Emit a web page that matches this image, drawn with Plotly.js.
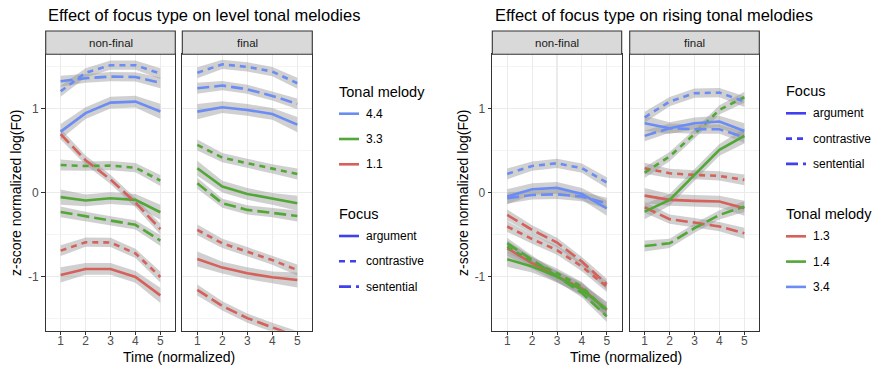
<!DOCTYPE html>
<html>
<head>
<meta charset="utf-8">
<script src="https://cdn.plot.ly/plotly-3.0.1.min.js"></script>
<style>html,body{margin:0;padding:0;background:#fff;}#chart{width:872px;height:365px;}</style>
</head>
<body>
<div id="chart"></div>
<script>
// ---------------- DATA ----------------
const time = [1, 2, 3, 4, 5];
const focusTypes = ['argument', 'contrastive', 'sentential'];
const panelLabels = ['non-final', 'final'];

// Level tonal melodies
const levelMelodies = ['4.4', '3.3', '1.1'];
const levelNonFinal_44 = {argument: [0.73, 0.95, 1.075, 1.087, 0.97], contrastive: [1.21, 1.43, 1.52, 1.52, 1.42], sentential: [1.33, 1.365, 1.385, 1.38, 1.31]};
const levelNonFinal_33 = {argument: [-0.05, -0.09, -0.063, -0.083, -0.23], contrastive: [0.333, 0.32, 0.325, 0.30, 0.147], sentential: [-0.226, -0.28, -0.333, -0.38, -0.567]};
const levelNonFinal_11 = {argument: [-0.976, -0.905, -0.905, -1.00, -1.22], contrastive: [-0.687, -0.587, -0.59, -0.72, -1.00], sentential: [0.70, 0.39, 0.16, -0.115, -0.43]};
const levelFinal_44 = {argument: [0.968, 1.02, 0.988, 0.94, 0.813], contrastive: [1.43, 1.53, 1.50, 1.445, 1.305], sentential: [1.246, 1.278, 1.234, 1.155, 1.06]};
const levelFinal_33 = {argument: [0.294, 0.075, -0.012, -0.071, -0.123], contrastive: [0.571, 0.42, 0.353, 0.286, 0.226], sentential: [0.115, -0.123, -0.202, -0.234, -0.274]};
const levelFinal_11 = {argument: [-0.786, -0.889, -0.956, -1.004, -1.036], contrastive: [-0.44, -0.60, -0.70, -0.80, -0.917], sentential: [-1.155, -1.345, -1.49, -1.60, -1.71]};

// Rising tonal melodies
const risingMelodies = ['1.3', '1.4', '3.4'];
const risingNonFinal_13 = {argument: [-0.659, -0.837, -0.996, -1.135, -1.393], contrastive: [-0.40, -0.55, -0.68, -0.877, -1.115], sentential: [-0.262, -0.44, -0.59, -0.817, -1.087]};
const risingNonFinal_14 = {argument: [-0.79, -0.877, -0.996, -1.155, -1.385], contrastive: [-0.64, -0.817, -0.956, -1.115, -1.413], sentential: [-0.60, -0.80, -0.996, -1.19, -1.47]};
const risingNonFinal_34 = {argument: [-0.044, 0.044, 0.06, -0.012, -0.183], contrastive: [0.226, 0.32, 0.353, 0.294, 0.123], sentential: [-0.063, -0.024, -0.016, -0.044, -0.123]};
const risingFinal_13 = {argument: [-0.032, -0.083, -0.095, -0.103, -0.183], contrastive: [0.294, 0.234, 0.214, 0.202, 0.155], sentential: [-0.171, -0.313, -0.353, -0.40, -0.48]};
const risingFinal_14 = {argument: [-0.222, -0.083, 0.214, 0.512, 0.679], contrastive: [0.242, 0.433, 0.702, 0.988, 1.139], sentential: [-0.631, -0.60, -0.42, -0.262, -0.163]};
const risingFinal_34 = {argument: [0.829, 0.77, 0.829, 0.85, 0.738], contrastive: [0.90, 1.087, 1.187, 1.194, 1.087], sentential: [0.679, 0.77, 0.758, 0.758, 0.663]};

// Confidence band half-widths (per focus type)
const bandArgument = [0.09, 0.07, 0.07, 0.07, 0.09];
const bandContrastive = [0.065, 0.055, 0.055, 0.055, 0.065];
const bandSentential = [0.065, 0.055, 0.055, 0.055, 0.065];

// ---------------- STYLE ----------------
const W = 872, H = 365;
const FONT = 'Liberation Sans, Arial, Helvetica, sans-serif';
const melodyColors = {'4.4': '#6A8CF4', '3.3': '#52A836', '1.1': '#D6605A', '3.4': '#6A8CF4', '1.4': '#52A836', '1.3': '#D6605A'};
const focusBlue = '#4040EE';
const dashes = {argument: 'solid', contrastive: '6px,5px', sentential: '12px,5px'};
const bands = {argument: bandArgument, contrastive: bandContrastive, sentential: bandSentential};

const px = x => x / W;
const py = y => (H - y) / H;

const plotTop = 54.3, plotBottom = 330.7, stripTop = 31;
const panels = [
  {x0: 45.7, x1: 175.3, ax: 'x', ay: 'y', data: {'4.4': levelNonFinal_44, '3.3': levelNonFinal_33, '1.1': levelNonFinal_11}, label: panelLabels[0]},
  {x0: 182.3, x1: 312.3, ax: 'x2', ay: 'y2', data: {'4.4': levelFinal_44, '3.3': levelFinal_33, '1.1': levelFinal_11}, label: panelLabels[1]},
  {x0: 492.3, x1: 621.7, ax: 'x3', ay: 'y3', data: {'1.3': risingNonFinal_13, '1.4': risingNonFinal_14, '3.4': risingNonFinal_34}, label: panelLabels[0]},
  {x0: 629.7, x1: 759.3, ax: 'x4', ay: 'y4', data: {'1.3': risingFinal_13, '1.4': risingFinal_14, '3.4': risingFinal_34}, label: panelLabels[1]}
];

const ribbons = [], lines = [];
panels.forEach(p => {
  Object.keys(p.data).forEach(mel => {
    focusTypes.forEach(f => {
      const v = p.data[mel][f];
      const b = bands[f];
      const up = v.map((d, i) => d + b[i]);
      const lo = v.map((d, i) => d - b[i]);
      ribbons.push({
        x: time.concat(time.slice().reverse()),
        y: up.concat(lo.slice().reverse()),
        xaxis: p.ax, yaxis: p.ay, type: 'scatter', mode: 'lines',
        fill: 'toself', fillcolor: 'rgba(150,150,150,0.45)',
        line: {width: 0}, hoverinfo: 'skip', showlegend: false
      });
      lines.push({
        x: time, y: v, xaxis: p.ax, yaxis: p.ay, type: 'scatter', mode: 'lines',
        line: {color: melodyColors[mel], width: 2.6, dash: dashes[f]},
        name: mel + ' ' + f, showlegend: false
      });
    });
  });
});

const gridColor = '#EBEBEB';
function xAxis(p) {
  return {
    domain: [px(p.x0), px(p.x1)], anchor: p.ay, range: [0.4, 5.6],
    tickvals: time, ticktext: time.map(String), ticks: 'outside', ticklen: 3.5, tickwidth: 1, tickcolor: '#333333',
    ticklabelstandoff: -5,
    tickfont: {family: FONT, size: 12, color: '#4D4D4D'},
    showgrid: true, gridcolor: gridColor, gridwidth: 1.1, zeroline: false,
    showline: true, mirror: true, linecolor: '#333333', linewidth: 1.1, fixedrange: true
  };
}
function yAxis(p, labels) {
  return {
    domain: [py(plotBottom), py(plotTop)], anchor: p.ax, range: [-1.64, 1.65],
    tickvals: [-1, 0, 1], ticktext: ['-1', '0', '1'],
    ticks: labels ? 'outside' : '', ticklen: 3.5, tickwidth: 1, tickcolor: '#333333', showticklabels: labels,
    tickfont: {family: FONT, size: 12, color: '#4D4D4D'},
    showgrid: true, gridcolor: gridColor, gridwidth: 1.1, zeroline: false,
    minor: {tickvals: [-1.5, -0.5, 0.5, 1.5], showgrid: true, gridcolor: gridColor, gridwidth: 0.55, ticks: ''},
    showline: true, mirror: true, linecolor: '#333333', linewidth: 1.1, fixedrange: true
  };
}

const shapes = [], annotations = [];
panels.forEach(p => {
  shapes.push({type: 'rect', xref: 'paper', yref: 'paper', x0: px(p.x0), x1: px(p.x1), y0: py(plotTop), y1: py(stripTop),
    fillcolor: '#D9D9D9', line: {color: '#333333', width: 1.1}, layer: 'above'});
  annotations.push({xref: 'paper', yref: 'paper', x: px((p.x0 + p.x1) / 2), y: py((stripTop + plotTop) / 2),
    text: p.label, showarrow: false, xanchor: 'center', yanchor: 'middle', font: {family: FONT, size: 11.5, color: '#1A1A1A'}});
});

// Titles
const chartTitles = ['Effect of focus type on level tonal melodies', 'Effect of focus type on rising tonal melodies'];
[[46, chartTitles[0]], [492.5, chartTitles[1]]].forEach(([x, t]) => {
  annotations.push({xref: 'paper', yref: 'paper', x: px(x), y: py(14.5), text: t, showarrow: false, xanchor: 'left', yanchor: 'middle',
    font: {family: FONT, size: 16.5, color: '#000000'}});
});
// Axis titles
[[15.5, 192.5], [462.5, 192.5]].forEach(([x, y]) => {
  annotations.push({xref: 'paper', yref: 'paper', x: px(x), y: py(y), text: 'z-score normalized log(F0)', showarrow: false, textangle: -90,
    xanchor: 'center', yanchor: 'middle', font: {family: FONT, size: 14, color: '#000000'}});
});
[[179, 356.5], [625.8, 356.5]].forEach(([x, y]) => {
  annotations.push({xref: 'paper', yref: 'paper', x: px(x), y: py(y), text: 'Time (normalized)', showarrow: false,
    xanchor: 'center', yanchor: 'middle', font: {family: FONT, size: 14, color: '#000000'}});
});

// Legends (drawn manually, ggplot style)
function legendBlock(x, yTitle, title, items) {
  annotations.push({xref: 'paper', yref: 'paper', x: px(x - 2), y: py(yTitle), text: title, showarrow: false, xanchor: 'left', yanchor: 'middle',
    font: {family: FONT, size: 14.5, color: '#000000'}});
  items.forEach((it, i) => {
    const y = yTitle + 22 + i * 25.3;
    shapes.push({type: 'line', xref: 'paper', yref: 'paper', x0: px(x), x1: px(x + 20), y0: py(y), y1: py(y),
      line: {color: it.color, width: 2.6, dash: it.dash}});
    annotations.push({xref: 'paper', yref: 'paper', x: px(x + 24.5), y: py(y), text: it.label, showarrow: false, xanchor: 'left', yanchor: 'middle',
      font: {family: FONT, size: 12, color: '#000000'}});
  });
}
const focusItems = focusTypes.map(f => ({label: f, color: focusBlue, dash: dashes[f]}));
legendBlock(339, 91.7, 'Tonal melody', levelMelodies.map(m => ({label: m, color: melodyColors[m], dash: 'solid'})));
legendBlock(339, 214, 'Focus', focusItems);
legendBlock(786, 91.3, 'Focus', focusItems);
legendBlock(786, 214.3, 'Tonal melody', risingMelodies.map(m => ({label: m, color: melodyColors[m], dash: 'solid'})));

const layout = {
  width: W, height: H, margin: {l: 0, r: 0, t: 0, b: 0},
  paper_bgcolor: '#FFFFFF', plot_bgcolor: '#FFFFFF', showlegend: false,
  font: {family: FONT},
  xaxis: xAxis(panels[0]), xaxis2: xAxis(panels[1]), xaxis3: xAxis(panels[2]), xaxis4: xAxis(panels[3]),
  yaxis: yAxis(panels[0], true), yaxis2: yAxis(panels[1], false), yaxis3: yAxis(panels[2], true), yaxis4: yAxis(panels[3], false),
  shapes: shapes, annotations: annotations
};

Plotly.newPlot('chart', ribbons.concat(lines), layout, {displayModeBar: false, staticPlot: true});
</script>
</body>
</html>
